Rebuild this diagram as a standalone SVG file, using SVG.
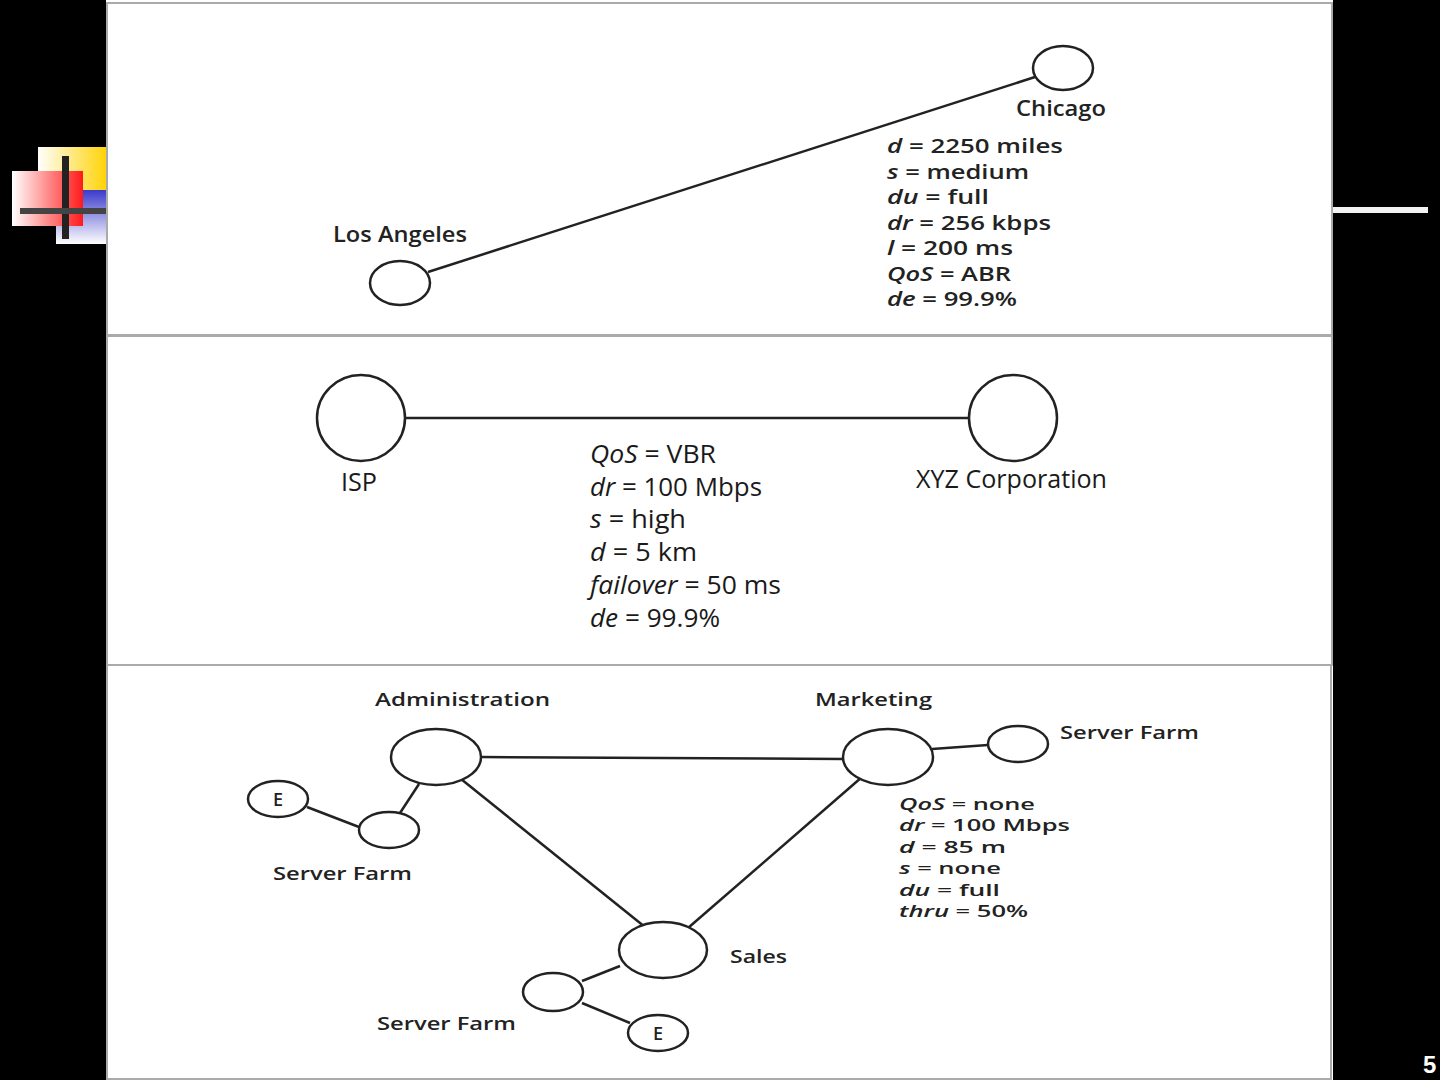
<svg xmlns="http://www.w3.org/2000/svg" width="1440" height="1080" viewBox="0 0 1440 1080">
<defs>
<linearGradient id="gy" x1="0" y1="0" x2="1" y2="0"><stop offset="0" stop-color="#ffffff"/><stop offset="1" stop-color="#ffd200"/></linearGradient>
<linearGradient id="gr" x1="0" y1="0" x2="1" y2="0"><stop offset="0" stop-color="#ffffff"/><stop offset="1" stop-color="#ff1a1a"/></linearGradient>
<linearGradient id="gb" x1="0" y1="0" x2="0" y2="1"><stop offset="0" stop-color="#3a3acc"/><stop offset="1" stop-color="#ffffff"/></linearGradient>
<style>
.n{fill:#fff;stroke:#222;stroke-width:2.5}
.c line{stroke:#222;stroke-width:2.5}
.t{font-family:"Open Sans","Noto Sans",sans-serif;font-weight:600;fill:#222}
.m{font-family:"Open Sans","Noto Sans",sans-serif;font-weight:500;fill:#1a1a1a}
.i{font-style:italic}
.panel{fill:#fff;stroke:#aaa;stroke-width:2}
</style>
</defs>
<rect x="0" y="0" width="1440" height="1080" fill="#000"/>
<g id="logo">
<rect x="38" y="147" width="70" height="60" fill="url(#gy)"/>
<rect x="56" y="190" width="52" height="54" fill="url(#gb)"/>
<rect x="12" y="171" width="71" height="55" fill="url(#gr)"/>
<rect x="62" y="156" width="7" height="83" fill="#222"/>
<rect x="20" y="208" width="88" height="6" fill="#444"/>
</g>
<rect x="1333" y="207" width="95" height="6" fill="#f2f2f2"/>
<rect x="106" y="0" width="1227" height="1080" fill="#fff"/>
<rect class="panel" x="107" y="3" width="1225" height="332"/>
<rect class="panel" x="107" y="336" width="1225" height="329"/>
<rect class="panel" x="107" y="665" width="1224" height="414"/>

<g class="c" id="connectors">
<line x1="428" y1="272" x2="1035" y2="77"/>
<line x1="405" y1="418" x2="969" y2="418"/>
<line x1="481" y1="757" x2="843" y2="759"/>
<line x1="461" y1="779" x2="645" y2="927"/>
<line x1="862" y1="777" x2="688" y2="928"/>
<line x1="932" y1="749" x2="988" y2="745"/>
<line x1="419" y1="784" x2="400" y2="813"/>
<line x1="307" y1="807" x2="359" y2="827"/>
<line x1="620" y1="966" x2="582" y2="981"/>
<line x1="582" y1="1003" x2="630" y2="1023"/>
</g>

<g id="chicago"><ellipse class="n" cx="1063" cy="68" rx="30" ry="22"/><text class="t" x="1016" y="116" font-size="21" textLength="90" lengthAdjust="spacingAndGlyphs">Chicago</text></g>
<g id="losangeles"><ellipse class="n" cx="400" cy="283" rx="30" ry="22"/><text class="t" x="333" y="242" font-size="21" textLength="134" lengthAdjust="spacingAndGlyphs">Los Angeles</text></g>
<g id="la-chicago-attrs" class="t" font-size="20">
<text x="887" y="153" textLength="176" lengthAdjust="spacingAndGlyphs"><tspan class="i">d</tspan> = 2250 miles</text>
<text x="887" y="179" textLength="142" lengthAdjust="spacingAndGlyphs"><tspan class="i">s</tspan> = medium</text>
<text x="887" y="204" textLength="102" lengthAdjust="spacingAndGlyphs"><tspan class="i">du</tspan> = full</text>
<text x="887" y="230" textLength="164" lengthAdjust="spacingAndGlyphs"><tspan class="i">dr</tspan> = 256 kbps</text>
<text x="887" y="255" textLength="126" lengthAdjust="spacingAndGlyphs"><tspan class="i">l</tspan> = 200 ms</text>
<text x="887" y="281" textLength="124" lengthAdjust="spacingAndGlyphs"><tspan class="i">QoS</tspan> = ABR</text>
<text x="887" y="306" textLength="130" lengthAdjust="spacingAndGlyphs"><tspan class="i">de</tspan> = 99.9%</text>
</g>

<g id="isp"><ellipse class="n" cx="361" cy="418" rx="44" ry="43"/><text class="m" x="341" y="491" font-size="26" textLength="36" lengthAdjust="spacingAndGlyphs">ISP</text></g>
<g id="xyz"><ellipse class="n" cx="1013" cy="418" rx="44" ry="43"/><text class="m" x="916" y="488" font-size="26" textLength="191" lengthAdjust="spacingAndGlyphs">XYZ Corporation</text></g>
<g id="isp-xyz-attrs" class="m" font-size="26">
<text x="590" y="463" textLength="126" lengthAdjust="spacingAndGlyphs"><tspan class="i">QoS</tspan> = VBR</text>
<text x="590" y="496" textLength="172" lengthAdjust="spacingAndGlyphs"><tspan class="i">dr</tspan> = 100 Mbps</text>
<text x="590" y="528" textLength="96" lengthAdjust="spacingAndGlyphs"><tspan class="i">s</tspan> = high</text>
<text x="590" y="561" textLength="107" lengthAdjust="spacingAndGlyphs"><tspan class="i">d</tspan> = 5 km</text>
<text x="590" y="594" textLength="191" lengthAdjust="spacingAndGlyphs"><tspan class="i">failover</tspan> = 50 ms</text>
<text x="590" y="627" textLength="130" lengthAdjust="spacingAndGlyphs"><tspan class="i">de</tspan> = 99.9%</text>
</g>

<g id="administration"><ellipse class="n" cx="436" cy="757" rx="45" ry="28"/><text class="t" x="375" y="706" font-size="18" textLength="175" lengthAdjust="spacingAndGlyphs">Administration</text></g>
<g id="marketing"><ellipse class="n" cx="888" cy="757" rx="45" ry="28"/><text class="t" x="815" y="706" font-size="18" textLength="117" lengthAdjust="spacingAndGlyphs">Marketing</text></g>
<g id="serverfarm-marketing"><ellipse class="n" cx="1018" cy="744" rx="30" ry="18"/><text class="t" x="1060" y="739" font-size="18" textLength="139" lengthAdjust="spacingAndGlyphs">Server Farm</text></g>
<g id="serverfarm-admin"><ellipse class="n" cx="389" cy="830" rx="30" ry="18"/><text class="t" x="273" y="880" font-size="18" textLength="139" lengthAdjust="spacingAndGlyphs">Server Farm</text></g>
<g id="e-admin"><ellipse class="n" cx="278" cy="799" rx="30" ry="18"/><text class="t" x="278" y="806" font-size="18" text-anchor="middle">E</text></g>
<g id="sales"><ellipse class="n" cx="663" cy="950" rx="44" ry="28"/><text class="t" x="730" y="963" font-size="18" textLength="57" lengthAdjust="spacingAndGlyphs">Sales</text></g>
<g id="serverfarm-sales"><ellipse class="n" cx="553" cy="992" rx="30" ry="19"/><text class="t" x="377" y="1030" font-size="18" textLength="139" lengthAdjust="spacingAndGlyphs">Server Farm</text></g>
<g id="e-sales"><ellipse class="n" cx="658" cy="1033" rx="30" ry="18"/><text class="t" x="658" y="1040" font-size="18" text-anchor="middle">E</text></g>
<g id="marketing-sales-attrs" class="t" font-size="17">
<text x="899" y="810" textLength="136" lengthAdjust="spacingAndGlyphs"><tspan class="i">QoS</tspan> = none</text>
<text x="899" y="831" textLength="171" lengthAdjust="spacingAndGlyphs"><tspan class="i">dr</tspan> = 100 Mbps</text>
<text x="899" y="853" textLength="107" lengthAdjust="spacingAndGlyphs"><tspan class="i">d</tspan> = 85 m</text>
<text x="899" y="874" textLength="102" lengthAdjust="spacingAndGlyphs"><tspan class="i">s</tspan> = none</text>
<text x="899" y="896" textLength="101" lengthAdjust="spacingAndGlyphs"><tspan class="i">du</tspan> = full</text>
<text x="899" y="917" textLength="129" lengthAdjust="spacingAndGlyphs"><tspan class="i">thru</tspan> = 50%</text>
</g>
<text x="1423" y="1073" font-family="Liberation Sans, Arial, sans-serif" font-weight="bold" font-size="24" fill="#fff">5</text>
</svg>
